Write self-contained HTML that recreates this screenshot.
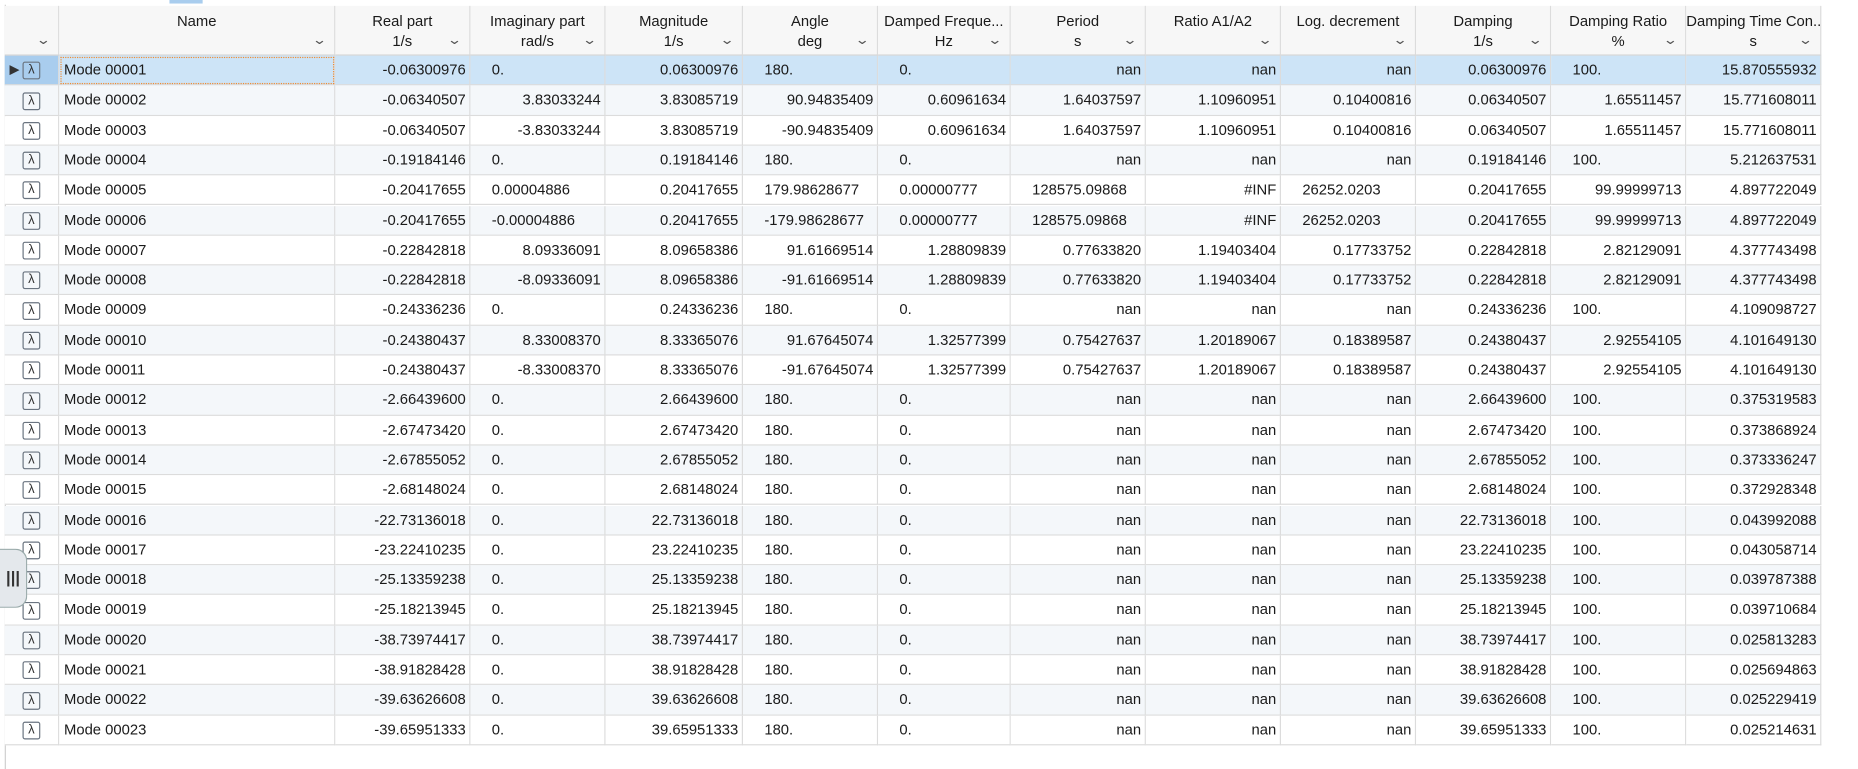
<!DOCTYPE html>
<html><head><meta charset="utf-8">
<style>
body{margin:0;width:1858px;height:769px;background:#fff;font-family:"Liberation Sans",sans-serif;color:#1a1a1a;overflow:hidden;position:relative}
#wrap{position:absolute;left:0;top:0;width:1568px;height:649px;transform:scale(1.185);transform-origin:0 0;font-size:12.5px}
#tbl{position:absolute;left:4px;top:4px;border-top:1px solid #a0a0a0}
.hdr{position:absolute;top:0;height:42px;background:#f7f7f7;border-right:1px solid #dcdcdc;border-bottom:1px solid #d0d0d0;box-sizing:border-box;text-align:center;white-space:nowrap;overflow:hidden}
.hdr .t{position:absolute;top:6px;left:0;right:0}
.hdr .u{position:absolute;top:23px;left:0;right:0}
.hdr .c{position:absolute;right:8px;top:22px;font-size:11px;color:#555;transform:scaleX(1.4)}
.cell{position:absolute;height:25.3px;line-height:25px;border-right:1px solid #dcdcdc;border-bottom:1px solid #dcdcdc;box-sizing:border-box;white-space:nowrap;overflow:hidden;padding:0 3px}
.r{text-align:right}.l{text-align:left;padding-left:18px}
.lam{display:inline-block;width:13px;height:13px;border:1.5px solid #6a7480;border-radius:2px;line-height:13px;text-align:center;font-size:11px;color:#333;vertical-align:middle}
</style></head><body>
<div id="wrap">
<div style="position:absolute;left:143px;top:0;width:28px;height:3px;background:#a9cdee"></div>
<div style="position:absolute;left:4px;top:4px;width:1px;height:645px;background:#d0d0d0"></div>
<div id="tbl"></div>
<div style="position:absolute;left:0;top:463px;width:22px;height:48px;background:#e4e8ec;border:1px solid #9aa;border-left:none;border-radius:0 10px 10px 0;text-align:center;line-height:46px;font-weight:bold;font-size:14px;color:#333">|||</div>
</div>
<script>
const colX=[0,46,279,393,507,623,737,849,963,1077,1191,1305,1419,1533];
const titles=["","Name","Real part","Imaginary part","Magnitude","Angle","Damped Freque...","Period","Ratio A1/A2","Log. decrement","Damping","Damping Ratio","Damping Time Con..."];
const units=["","","1/s","rad/s","1/s","deg","Hz","s","","","1/s","%","s"];
const names=[];for(let i=1;i<=23;i++)names.push("Mode "+String(i).padStart(5,"0"));
const realPart=["-0.06300976","-0.06340507","-0.06340507","-0.19184146","-0.20417655","-0.20417655","-0.22842818","-0.22842818","-0.24336236","-0.24380437","-0.24380437","-2.66439600","-2.67473420","-2.67855052","-2.68148024","-22.73136018","-23.22410235","-25.13359238","-25.18213945","-38.73974417","-38.91828428","-39.63626608","-39.65951333"];
const imagPart=["<0.","3.83033244","-3.83033244","<0.","<0.00004886","<-0.00004886","8.09336091","-8.09336091","<0.","8.33008370","-8.33008370","<0.","<0.","<0.","<0.","<0.","<0.","<0.","<0.","<0.","<0.","<0.","<0."];
const magnitude=["0.06300976","3.83085719","3.83085719","0.19184146","0.20417655","0.20417655","8.09658386","8.09658386","0.24336236","8.33365076","8.33365076","2.66439600","2.67473420","2.67855052","2.68148024","22.73136018","23.22410235","25.13359238","25.18213945","38.73974417","38.91828428","39.63626608","39.65951333"];
const angle=["<180.","90.94835409","-90.94835409","<180.","<179.98628677","<-179.98628677","91.61669514","-91.61669514","<180.","91.67645074","-91.67645074","<180.","<180.","<180.","<180.","<180.","<180.","<180.","<180.","<180.","<180.","<180.","<180."];
const dampedFreq=["<0.","0.60961634","0.60961634","<0.","<0.00000777","<0.00000777","1.28809839","1.28809839","<0.","1.32577399","1.32577399","<0.","<0.","<0.","<0.","<0.","<0.","<0.","<0.","<0.","<0.","<0.","<0."];
const period=["nan","1.64037597","1.64037597","nan","<128575.09868","<128575.09868","0.77633820","0.77633820","nan","0.75427637","0.75427637","nan","nan","nan","nan","nan","nan","nan","nan","nan","nan","nan","nan"];
const ratio=["nan","1.10960951","1.10960951","nan","#INF","#INF","1.19403404","1.19403404","nan","1.20189067","1.20189067","nan","nan","nan","nan","nan","nan","nan","nan","nan","nan","nan","nan"];
const logDec=["nan","0.10400816","0.10400816","nan","<26252.0203","<26252.0203","0.17733752","0.17733752","nan","0.18389587","0.18389587","nan","nan","nan","nan","nan","nan","nan","nan","nan","nan","nan","nan"];
const damping=["0.06300976","0.06340507","0.06340507","0.19184146","0.20417655","0.20417655","0.22842818","0.22842818","0.24336236","0.24380437","0.24380437","2.66439600","2.67473420","2.67855052","2.68148024","22.73136018","23.22410235","25.13359238","25.18213945","38.73974417","38.91828428","39.63626608","39.65951333"];
const dampRatio=["<100.","1.65511457","1.65511457","<100.","99.99999713","99.99999713","2.82129091","2.82129091","<100.","2.92554105","2.92554105","<100.","<100.","<100.","<100.","<100.","<100.","<100.","<100.","<100.","<100.","<100.","<100."];
const timeConst=["15.870555932","15.771608011","15.771608011","5.212637531","4.897722049","4.897722049","4.377743498","4.377743498","4.109098727","4.101649130","4.101649130","0.375319583","0.373868924","0.373336247","0.372928348","0.043992088","0.043058714","0.039787388","0.039710684","0.025813283","0.025694863","0.025229419","0.025214631"];
const cols=[null,names,realPart,imagPart,magnitude,angle,dampedFreq,period,ratio,logDec,damping,dampRatio,timeConst];
const T=document.getElementById('tbl');
for(let c=0;c<13;c++){
  const h=document.createElement('div');h.className='hdr';
  
  
  h.style.left=colX[c]+'px';h.style.width=(colX[c+1]-colX[c])+'px';
  h.innerHTML='<div class="t">'+titles[c]+'</div><div class="u">'+units[c]+'</div><div class="c">⌄</div>';
  T.appendChild(h);
}
const RH=25.3,top0=42;
for(let r=0;r<23;r++){
  const y=top0+r*RH;
  const bg=r===0?'#cde4f7':(r%2===1?'#f4f7fa':'#fff');
  for(let c=0;c<13;c++){
    const d=document.createElement('div');d.className='cell';
    
    
    d.style.left=colX[c]+'px';d.style.top=y+'px';d.style.width=(colX[c+1]-colX[c])+'px';
    d.style.background=(r===0&&c===0)?'#a9cdee':bg;
    if(c===0){d.style.textAlign='center';d.innerHTML=(r===0?'<span style="position:absolute;left:4px;color:#333;font-size:11px">▶</span>':'')+'<span class="lam">λ</span>';}
    else{
      let v=cols[c][r];
      if(c===1){d.style.paddingLeft='4px';}
      else if(v[0]==='<'){v=v.slice(1);d.classList.add('l');}
      else d.classList.add('r');
      d.textContent=v;
      if(r===0&&c===1){d.style.outline='1px dotted #f08a30';d.style.outlineOffset='-2px';}
    }
    T.appendChild(d);
  }
}
</script>
</body></html>
